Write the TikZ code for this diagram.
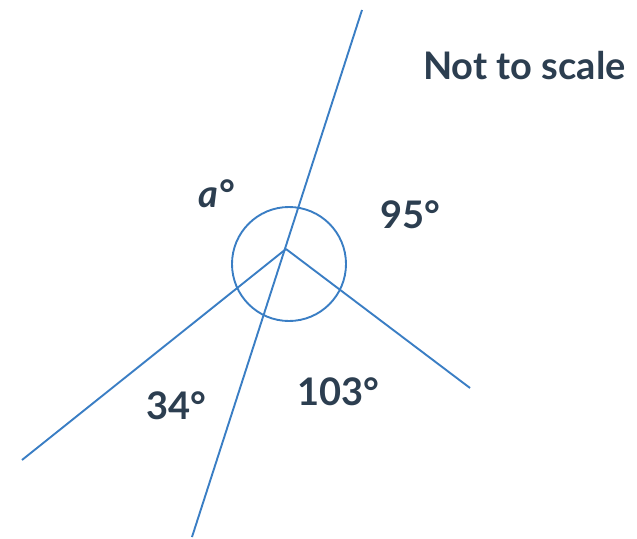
\documentclass[tikz,border=0pt]{standalone}
\usepackage{fontspec}
\setmainfont{Lato}
\usetikzlibrary{calc}
\definecolor{lineblue}{RGB}{58,126,196}
\definecolor{labelink}{RGB}{44,62,80}

\begin{document}
\begin{tikzpicture}[x=1pt,y=-1pt,
  every node/.style={text=labelink},
  ray/.style={draw=lineblue,line width=1.9pt},
  angle/.style={font=\bfseries\fontsize{38}{41}\selectfont,anchor=base west,inner sep=0pt}]

\useasboundingbox (0,0) rectangle (637,538);

% the lines
\coordinate (vertex) at (286,249);
\coordinate (top) at (362,10);
\coordinate (bottom) at (192,537);
\coordinate (leftend) at (22,460);
\coordinate (rightend) at (470,388);

\draw[ray] (top)--(bottom);
\draw[ray] (vertex)--(leftend);
\draw[ray] (vertex)--(rightend);
\draw[ray] (289,264) circle (57);

% angle labels
\node[angle] (a) at (198,207) {\itshape a°};
\node[angle] (ninetyfive) at (380,228) {95°};
\node[angle] (thirtyfour) at (146,419) {34°};
\node[angle] (hundredthree) at (297,405) {103°};

% note
\node[angle] (note) at (423,79) {Not to scale};
\end{tikzpicture}
\end{document}
